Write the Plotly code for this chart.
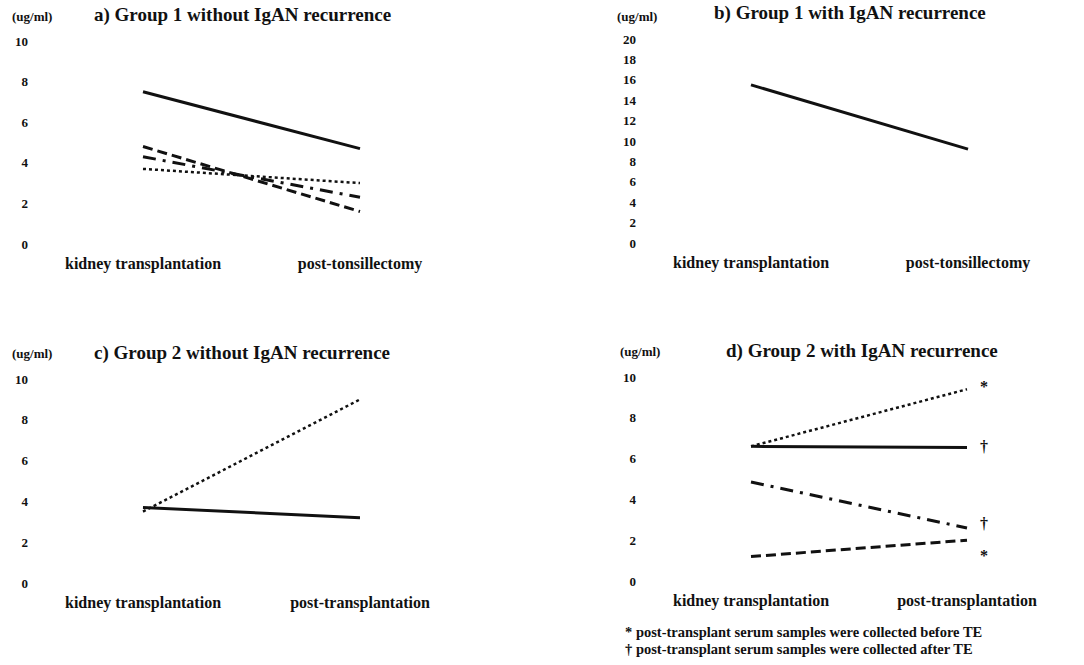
import plotly.graph_objects as go

W, H = 1084, 665
FONT = "Liberation Serif, Times New Roman, serif"

# ---------------- data ----------------
cats_tonsil = ["kidney transplantation", "post-tonsillectomy"]
cats_transp = ["kidney transplantation", "post-transplantation"]

# a) Group 1 without IgAN recurrence
a_solid = [7.5, 4.7]
a_dash = [4.8, 1.6]
a_dashdot = [4.3, 2.3]
a_dot = [3.7, 3.0]

# b) Group 1 with IgAN recurrence
b_solid = [15.5, 9.2]

# c) Group 2 without IgAN recurrence
c_solid = [3.7, 3.2]
c_dot = [3.5, 9.0]

# d) Group 2 with IgAN recurrence
d_dot = [6.6, 9.4]
d_solid = [6.6, 6.55]
d_dashdot = [4.85, 2.6]
d_dash = [1.2, 2.0]
d_marks = ["*", "\u2020", "\u2020", "*"]
d_mark_y = [9.55, 6.57, 2.84, 1.27]
d_mark_x = 1.079

ticks_10 = [0, 2, 4, 6, 8, 10]
ticks_20 = [0, 2, 4, 6, 8, 10, 12, 14, 16, 18, 20]

titles = ["a) Group 1 without IgAN recurrence", "b) Group 1 with IgAN recurrence",
          "c) Group 2 without IgAN recurrence", "d) Group 2 with IgAN recurrence"]
unit = "(ug/ml)"
foot1 = "* post-transplant serum samples were collected before TE"
foot2 = "\u2020 post-transplant serum samples were collected after TE"

# ---------------- layout geometry (pixels) ----------------
# panel: (x px of cat0, x px of cat1, y px of value 0, y px of top value, top value, ylabel x px)
geo = {
    1: (143, 360, 244, 41, 10, 28),
    2: (751, 968, 243, 39, 20, 636),
    3: (143, 360, 583, 379, 10, 28),
    4: (751, 967, 581, 377, 10, 636),
}
XPAD = 0.45
YLO, YHI = 0.04, 0.05

fig = go.Figure()
layout = dict(width=W, height=H, margin=dict(l=0, r=0, t=0, b=0),
              paper_bgcolor="white", plot_bgcolor="white", showlegend=False)

def px2x(p):
    return p / W

def px2y(p):
    return 1 - p / H

INK = "#111111"
tickfont = dict(family=FONT, size=13, color=INK, weight="bold")
catfont = dict(family=FONT, size=16, color=INK, weight="bold")

for i, (x0, x1, y0, yt, top, ylab) in geo.items():
    dx = x1 - x0
    dl = x0 - XPAD * dx
    dr = x1 + XPAD * dx
    span = y0 - yt
    db = y0 + YLO * span
    dtp = yt - YHI * span
    xa = "xaxis" if i == 1 else f"xaxis{i}"
    ya = "yaxis" if i == 1 else f"yaxis{i}"
    cats = cats_tonsil if i <= 2 else cats_transp
    layout[xa] = dict(domain=[px2x(dl), px2x(dr)], range=[-XPAD, 1 + XPAD],
                      anchor="y" if i == 1 else f"y{i}",
                      tickvals=[0, 1], ticktext=cats, tickfont=catfont,
                      showgrid=False, zeroline=False, showline=False, ticks="")
    layout[ya] = dict(domain=[px2y(db), px2y(dtp)], range=[-YLO * top, top * (1 + YHI)],
                      anchor="free", position=px2x(ylab),
                      tickvals=ticks_20 if top == 20 else ticks_10, tickfont=tickfont,
                      showgrid=False, zeroline=False, showline=False, ticks="")

def line(ax, y, dash, width=3):
    xs = "x" if ax == 1 else f"x{ax}"
    ys = "y" if ax == 1 else f"y{ax}"
    fig.add_trace(go.Scatter(x=[0, 1], y=y, mode="lines", xaxis=xs, yaxis=ys,
                             line=dict(color=INK, width=width, dash=dash),
                             hoverinfo="skip"))

DASH = "10px,5px"
DOT = "3px,3px"
DASHDOT = "13px,7px,3px,7px"

line(1, a_solid, "solid")
line(1, a_dash, DASH)
line(1, a_dashdot, DASHDOT)
line(1, a_dot, DOT, 2.5)
line(2, b_solid, "solid")
line(3, c_solid, "solid")
line(3, c_dot, DOT, 2.5)
line(4, d_dot, DOT, 2.5)
line(4, d_solid, "solid")
line(4, d_dashdot, DASHDOT)
line(4, d_dash, DASH)

ann = []
for m, my in zip(d_marks, d_mark_y):
    ann.append(dict(text="<b>" + m + "</b>", x=d_mark_x, y=my, xref="x4", yref="y4",
                    showarrow=False, xanchor="center", yanchor="middle",
                    font=dict(family=FONT, size=16, color=INK)))

title_pos = [(242, 15), (850, 13), (242, 353), (862, 351)]
unit_pos = [(32, 16), (637, 16), (32, 353), (640, 352)]
for t, (tx, ty) in zip(titles, title_pos):
    ann.append(dict(text="<b>" + t + "</b>", x=px2x(tx), y=px2y(ty), xref="paper", yref="paper",
                    showarrow=False, xanchor="center", yanchor="middle",
                    font=dict(family=FONT, size=19, color=INK)))
for (ux, uy) in unit_pos:
    ann.append(dict(text="<b>" + unit + "</b>", x=px2x(ux), y=px2y(uy), xref="paper", yref="paper",
                    showarrow=False, xanchor="center", yanchor="middle",
                    font=dict(family=FONT, size=13, color=INK)))
for txt, fy in [(foot1, 632), (foot2, 649)]:
    ann.append(dict(text="<b>" + txt + "</b>", x=px2x(623), y=px2y(fy), xref="paper", yref="paper",
                    showarrow=False, xanchor="left", yanchor="middle",
                    font=dict(family=FONT, size=14.5, color=INK)))
layout["annotations"] = ann

fig.update_layout(**layout)

fig.write_html("out.html", config={"displayModeBar": False},
               post_script="document.body.style.margin='0';document.body.style.overflow='hidden';")
